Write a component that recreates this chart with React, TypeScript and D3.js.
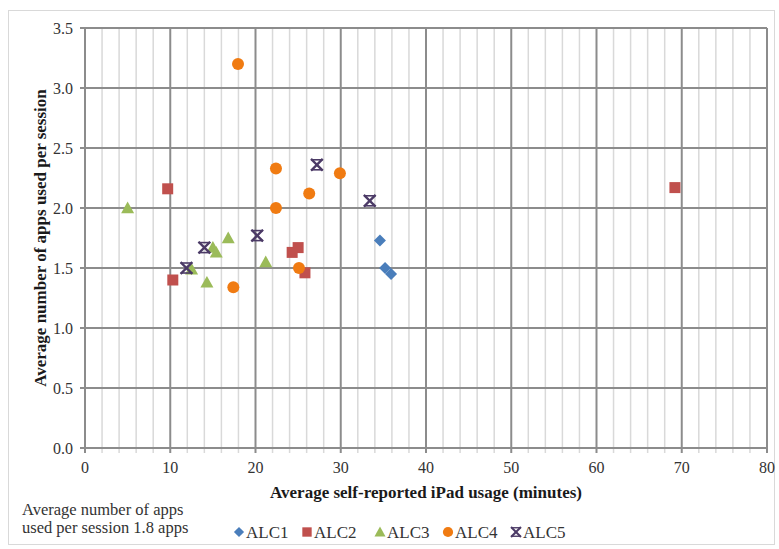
import React from 'react';
import * as d3 from 'd3';

const width = 779;
const height = 549;
const margin = { top: 28, right: 12, bottom: 101, left: 85 };

const xTicks = [0, 10, 20, 30, 40, 50, 60, 70, 80];
const yTicks = [0, 0.5, 1, 1.5, 2, 2.5, 3, 3.5];

const alc1 = [[34.6, 1.73], [35.2, 1.5], [35.9, 1.45]];
const alc2 = [[9.7, 2.16], [10.3, 1.4], [24.3, 1.63], [25.0, 1.67], [25.8, 1.46], [69.2, 2.17]];
const alc3 = [[5.0, 2.0], [16.8, 1.75], [15.0, 1.67], [15.4, 1.63], [21.2, 1.55], [14.3, 1.38], [12.5, 1.49]];
const alc4 = [[17.95, 3.2], [22.4, 2.33], [29.9, 2.29], [26.3, 2.12], [22.4, 2.0], [25.1, 1.5], [17.4, 1.34]];
const alc5 = [[27.2, 2.36], [33.4, 2.06], [20.2, 1.77], [14.0, 1.67], [11.9, 1.5]];

const series = [
  { name: 'ALC1', data: alc1, color: '#4a7ebb', shape: 'diamond' },
  { name: 'ALC2', data: alc2, color: '#c0504d', shape: 'square' },
  { name: 'ALC3', data: alc3, color: '#9bbb59', shape: 'triangle' },
  { name: 'ALC4', data: alc4, color: '#f07b12', shape: 'circle' },
  { name: 'ALC5', data: alc5, color: '#4b3a66', shape: 'star' },
];

const font = '"Liberation Serif", "Times New Roman", serif';

function Marker({ shape, color, cx, cy, s = 1 }: any) {
  if (shape === 'diamond') {
    const r = 6 * s;
    return <path d={`M${cx},${cy - r}L${cx + r},${cy}L${cx},${cy + r}L${cx - r},${cy}Z`} fill={color} />;
  }
  if (shape === 'square') {
    const r = 5.5 * s;
    return <rect x={cx - r} y={cy - r} width={2 * r} height={2 * r} fill={color} />;
  }
  if (shape === 'triangle') {
    const r = 6.5 * s;
    return <path d={`M${cx},${cy - r}L${cx + r},${cy + r * 0.8}L${cx - r},${cy + r * 0.8}Z`} fill={color} />;
  }
  if (shape === 'circle') {
    return <circle cx={cx} cy={cy} r={6 * s} fill={color} />;
  }
  const r = 5 * s;
  return (
    <g stroke={color} strokeWidth={2.4 * s} strokeLinecap="square">
      <line x1={cx - r} y1={cy - r} x2={cx + r} y2={cy + r} />
      <line x1={cx - r} y1={cy + r} x2={cx + r} y2={cy - r} />
      <line x1={cx - r} y1={cy - r} x2={cx + r} y2={cy - r} strokeWidth={1.6 * s} />
      <line x1={cx - r} y1={cy + r} x2={cx + r} y2={cy + r} strokeWidth={1.6 * s} />
    </g>
  );
}

export default function App() {
  const x = d3.scaleLinear().domain([0, 80]).range([margin.left, width - margin.right]);
  const y = d3.scaleLinear().domain([0, 3.5]).range([height - margin.bottom, margin.top]);
  const minor = d3.range(0, 81, 2).filter((v) => v % 10 !== 0);

  const legendX = [239, 307, 380, 448, 516];

  return (
    <svg width={width} height={height} style={{ position: 'absolute', left: 0, top: 0 }} fontFamily={font}>
      <rect x={8.5} y={10.5} width={766} height={534} fill="#fff" stroke="#d9d9d9" />
      {minor.map((v) => (
        <line key={'m' + v} x1={x(v)} x2={x(v)} y1={y(3.5)} y2={y(0) + 5} stroke="#d9d9d9" strokeWidth={1.5} />
      ))}
      {yTicks.map((v) => (
        <line key={'h' + v} x1={x(0) - 5} x2={x(80)} y1={y(v)} y2={y(v)} stroke="#8c8c8c" strokeWidth={2} />
      ))}
      {xTicks.map((v) => (
        <line key={'v' + v} x1={x(v)} x2={x(v)} y1={y(3.5)} y2={y(0) + 5} stroke="#8c8c8c" strokeWidth={2} />
      ))}
      {yTicks.map((v) => (
        <text key={'yt' + v} x={x(0) - 12} y={y(v)} dy="0.35em" textAnchor="end" fontSize={16} fill="#333">
          {d3.format('.1f')(v)}
        </text>
      ))}
      {xTicks.map((v) => (
        <text key={'xt' + v} x={x(v)} y={y(0) + 25} textAnchor="middle" fontSize={16} fill="#333">
          {v}
        </text>
      ))}
      <text x={426} y={498} textAnchor="middle" fontSize={17} fontWeight="bold" fill="#1a1a1a">
        Average self-reported iPad usage (minutes)
      </text>
      <text transform={`translate(46,${(y(0) + y(3.5)) / 2}) rotate(-90)`} textAnchor="middle" fontSize={17} fontWeight="bold" fill="#1a1a1a">
        Average number of apps used per session
      </text>
      {series.map((s) =>
        s.data.map((d, i) => <Marker key={s.name + i} shape={s.shape} color={s.color} cx={x(d[0])} cy={y(d[1])} />)
      )}
      <text x={22} y={515} fontSize={16.5} fill="#333">Average number of apps</text>
      <text x={22} y={533} fontSize={16.5} fill="#333">used per session 1.8 apps</text>
      {series.map((s, i) => (
        <g key={'lg' + s.name}>
          <Marker shape={s.shape} color={s.color} cx={legendX[i]} cy={532} s={0.85} />
          <text x={legendX[i] + 7} y={538} fontSize={17} fill="#333">{s.name}</text>
        </g>
      ))}
    </svg>
  );
}
